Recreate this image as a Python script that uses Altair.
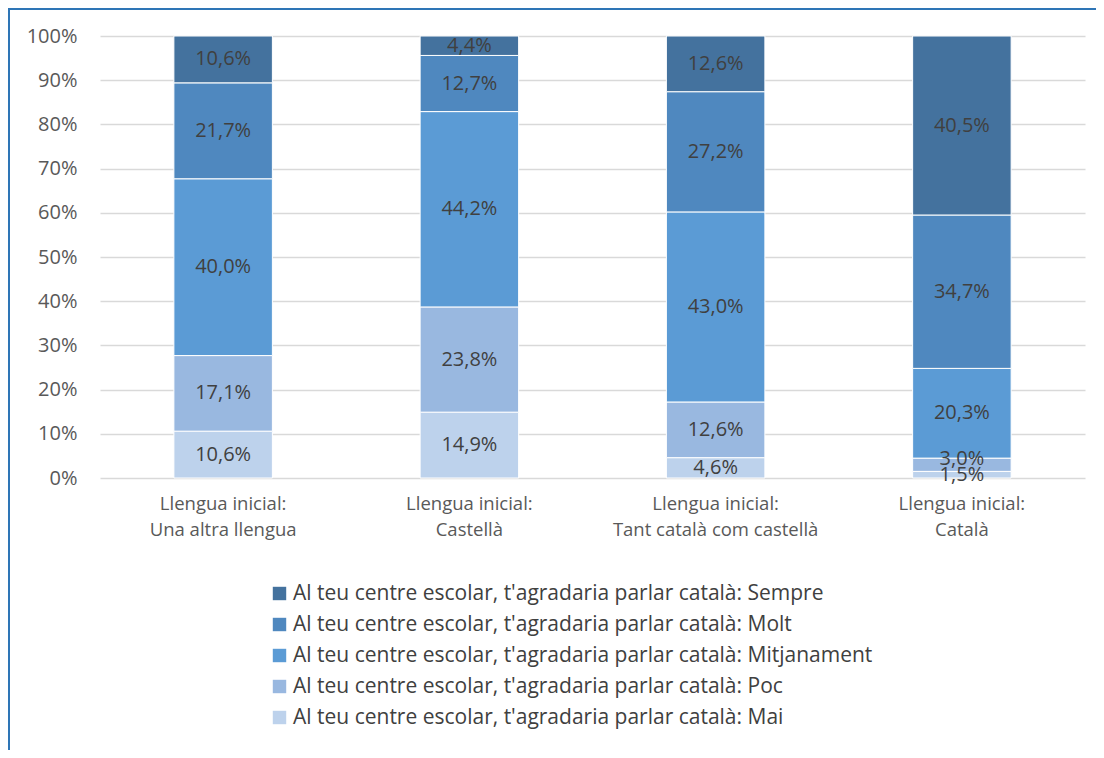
import altair as alt
import pandas as pd

categories = [
    "Llengua inicial:|Una altra llengua",
    "Llengua inicial:|Castellà",
    "Llengua inicial:|Tant català com castellà",
    "Llengua inicial:|Català",
]
prefix = "Al teu centre escolar, t'agradaria parlar català: "
series_bottom_up = ["Mai", "Poc", "Mitjanament", "Molt", "Sempre"]
mai = [10.6, 14.9, 4.6, 1.5]
poc = [17.1, 23.8, 12.6, 3.0]
mitjanament = [40.0, 44.2, 43.0, 20.3]
molt = [21.7, 12.7, 27.2, 34.7]
sempre = [10.6, 4.4, 12.6, 40.5]
colors = {"Sempre": "#44729E", "Molt": "#4F88BF", "Mitjanament": "#5B9BD5",
          "Poc": "#99B8E0", "Mai": "#BDD2EC"}
y_ticks = [0, 10, 20, 30, 40, 50, 60, 70, 80, 90, 100]

values = {"Mai": mai, "Poc": poc, "Mitjanament": mitjanament, "Molt": molt, "Sempre": sempre}
rows = []
for ci, cat in enumerate(categories):
    start = 0.0
    for si, s in enumerate(series_bottom_up):
        v = values[s][ci]
        rows.append({
            "cat": cat,
            "series": prefix + s,
            "order": si,
            "start": start,
            "end": start + v,
            "mid": start + v / 2,
            "label": f"{v:.1f}".replace(".", ",") + "%",
        })
        start += v
df = pd.DataFrame(rows)

legend_order = [prefix + s for s in reversed(series_bottom_up)]
legend_colors = [colors[s] for s in reversed(series_bottom_up)]

FONT = "Open Sans"

x_enc = alt.X("cat:N", sort=categories, title=None,
              scale=alt.Scale(paddingInner=0.6, paddingOuter=0.3),
              axis=alt.Axis(labelExpr="split(datum.label, '|')", labelAngle=0,
                            labelFontSize=18.5, labelColor="#595959", labelFont=FONT,
                            labelLineHeight=26, labelPadding=16, ticks=False,
                            domain=False, labelLimit=400))

y_scale = alt.Scale(domain=[0, 100], nice=False)

bars = alt.Chart(df).mark_bar(stroke="white", strokeWidth=1).encode(
    x=x_enc,
    y=alt.Y("start:Q", scale=y_scale, title=None,
            axis=alt.Axis(values=y_ticks, labelExpr="datum.value + '%'",
                          labelFontSize=20, labelColor="#595959", labelFont=FONT,
                          labelPadding=23, ticks=False, domain=False,
                          grid=True, gridColor="#D9D9D9", gridWidth=1.5)),
    y2="end:Q",
    color=alt.Color("series:N", title=None,
                    scale=alt.Scale(domain=legend_order, range=legend_colors),
                    legend=alt.Legend(orient="none", legendX=169, legendY=547,
                                      direction="vertical", symbolType="square",
                                      symbolSize=180, symbolStrokeWidth=0,
                                      labelFontSize=21, labelColor="#404040",
                                      labelFont=FONT, rowPadding=9, labelOffset=3,
                                      labelLimit=800)),
    order=alt.Order("order:Q"),
)

small_poc = "datum.end - datum.start < 4 && datum.order == 1"

texts = alt.Chart(df).mark_text(fontSize=20, color="#404040", font=FONT).encode(
    x=alt.X("cat:N", sort=categories),
    y=alt.Y("mid:Q", scale=y_scale),
    text="label:N",
).transform_filter("!(" + small_poc + ")")

texts_small = alt.Chart(df).mark_text(fontSize=20, color="#404040", font=FONT, dy=-6).encode(
    x=alt.X("cat:N", sort=categories),
    y=alt.Y("mid:Q", scale=y_scale),
    text="label:N",
).transform_filter(small_poc)

frame_data = alt.Data(values=[{"a": 1}])
frame_left = alt.Chart(frame_data).mark_rule(color="#2E75B6", strokeWidth=2).encode(
    x=alt.value(-91), y=alt.value(-27), y2=alt.value(760))
frame_top = alt.Chart(frame_data).mark_rule(color="#2E75B6", strokeWidth=2).encode(
    x=alt.value(-92), x2=alt.value(1000), y=alt.value(-27))

chart = alt.layer(bars, texts, texts_small, frame_left, frame_top).properties(
    width=985, height=442,
    autosize=alt.AutoSizeParams(type="none"),
    padding={"left": 92, "top": 28, "right": 11, "bottom": 272},
).configure_view(stroke=None).configure_axis(labelFont=FONT)

chart.save("out.html", embed_options={"renderer": "svg", "actions": False})
